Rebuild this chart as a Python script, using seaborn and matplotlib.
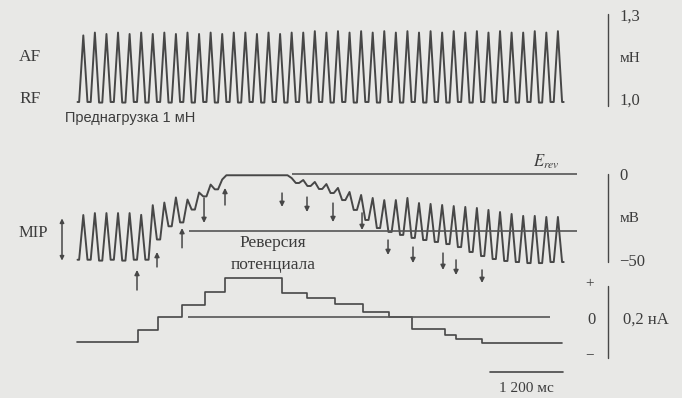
import numpy as np
import pandas as pd
import matplotlib
matplotlib.use("Agg")
import matplotlib.pyplot as plt
import seaborn as sns

# ---------------- data ----------------
beat_period_ms = 191
first_peak_ms = 104

force_start_mN = 1.0
force_peaks_mN = [1.235, 1.245, 1.240, 1.245, 1.240, 1.245, 1.240, 1.245, 1.240, 1.245,
                  1.240, 1.245, 1.240, 1.245, 1.245, 1.240, 1.245, 1.240, 1.245, 1.245,
                  1.250, 1.245, 1.250, 1.245, 1.250, 1.245, 1.250, 1.245, 1.250, 1.245,
                  1.250, 1.245, 1.250, 1.245, 1.250, 1.245, 1.250, 1.245, 1.245, 1.250,
                  1.245, 1.250]
force_troughs_mN = [1.000, 0.998, 1.000, 0.998, 1.000, 0.998, 1.000, 0.998, 1.000, 0.998,
                    1.000, 0.998, 1.000, 0.998, 1.000, 0.998, 1.000, 0.998, 1.000, 0.998,
                    1.000, 0.998, 1.000, 0.998, 1.000, 0.998, 1.000, 0.998, 1.000, 0.998,
                    1.000, 0.998, 1.000, 0.998, 1.000, 0.998, 1.000, 0.998, 1.000, 0.998,
                    1.000, 1.000]

vm_start_mV = -49.0
vm_peaks_mV = [-23.6, -22.5, -22.5, -22.5, -22.5, -23.5, -18.0, -16.5, -13.6, -14.8,
               -10.8, -6.3, -3.4, -1.0, -1.0, -1.0, -1.0, -1.0,
               -2.6, -3.7, -4.8, -6.0, -8.2, -10.5, -12.2, -13.9, -15.1, -15.1,
               -13.9, -16.8, -17.3, -17.9, -18.5, -19.0, -19.6, -20.7, -21.9, -23.0,
               -24.1, -24.1, -24.7, -24.7]
vm_troughs_mV = [-49.0, -49.5, -49.0, -49.5, -49.0, -49.0, -37.5, -30.0, -27.8, -20.5,
                 -13.0, -9.0, -1.0, -1.0, -1.0, -1.0, -1.0, -1.0,
                 -5.4, -7.1, -8.8, -11.1, -15.1, -20.7, -26.4, -31.0, -33.2, -34.9,
                 -36.6, -37.8, -38.9, -40.1, -41.8, -44.6, -46.9, -48.6, -49.7, -50.3,
                 -50.9, -50.9, -50.3, -50.3]

current_step_ms = [0, 1000, 1340, 1730, 2120, 2440, 3380, 3790, 4260, 4720,
                   5140, 5520, 6070, 6250, 6690, 8000]
current_step_nA = [-0.070, -0.036, 0.000, 0.035, 0.073, 0.111, 0.070, 0.054, 0.037, 0.016,
                   0.000, -0.034, -0.051, -0.063, -0.074, -0.074]

erev_line_ms = [3543, 8250]        # E_rev level (0 mV)
rev_line_ms = [1848, 8250]         # reference level
rev_line_mV = -32.7
zero_current_ms = [1836, 7805]

up_arrow_ms = [990, 1320, 1733, 2442]
up_arrow_from_mV = [-66.2, -53.1, -42.2, -17.9]
up_arrow_to_mV = [-54.8, -44.6, -31.0, -8.2]
down_arrow_ms = [2096, 3383, 3795, 4224, 4703, 5132, 5544, 6039, 6254, 6683]
down_arrow_from_mV = [-13.9, -11.1, -13.4, -16.8, -22.4, -37.8, -41.8, -45.2, -49.1, -54.8]
down_arrow_to_mV = [-28.1, -19.0, -21.9, -27.6, -32.1, -46.3, -50.9, -54.8, -57.7, -62.2]

scale_time_ms = 1200

# ---------------- style ----------------
W, H = 682, 398
BG = "#e8e8e6"
INK = "#474747"
TXT = "#3c3c3c"
MS_PER_PX = 16.5
X0_PX = 77

sns.set_theme(style="white")
plt.rcParams["font.family"] = ["Liberation Serif", "DejaVu Serif"]
plt.rcParams["mathtext.fontset"] = "stix"

fig = plt.figure(figsize=(W / 100, H / 100), dpi=100)
fig.patch.set_facecolor(BG)

xlim = ((0 - X0_PX) * MS_PER_PX, (W - X0_PX) * MS_PER_PX)


def band(top_px, bot_px, y1, v1, y2, v2):
    ax = fig.add_axes([0, 1 - bot_px / H, 1, (bot_px - top_px) / H])
    slope = (v2 - v1) / (y2 - y1)
    ax.set_ylim(v1 + (bot_px - y1) * slope, v1 + (top_px - y1) * slope)
    ax.set_xlim(*xlim)
    ax.set_facecolor("none")
    ax.axis("off")
    return ax


def beats(peaks, troughs, start):
    t = [first_peak_ms - 0.5 * beat_period_ms]
    v = [start]
    prev = start
    for k, (p, tr) in enumerate(zip(peaks, troughs)):
        tk = first_peak_ms + k * beat_period_ms
        t += [tk - 0.36 * beat_period_ms, tk, tk + 0.36 * beat_period_ms]
        v += [prev, p, tr]
        prev = tr
    t.append(tk + 0.5 * beat_period_ms)
    v.append(prev)
    return pd.DataFrame({"t": t, "v": v})


def fx(x):
    return x / W


def fy(y):
    return 1 - y / H


ax_f = band(0, 125, 102, 1.0, 17, 1.3)
ax_v = band(140, 300, 173.5, 0.0, 261.5, -50.0)
ax_i = band(262, 398, 317.3, 0.0, 247.3, 0.2)

LW = 1.4

# force trace
df_f = beats(force_peaks_mN, force_troughs_mN, force_start_mN)
sns.lineplot(data=df_f, x="t", y="v", ax=ax_f, sort=False, estimator=None,
             color=INK, lw=LW)
ax_f.plot([8761, 8761], [0.986, 1.311], color=INK, lw=1.0)

# membrane potential trace
df_v = beats(vm_peaks_mV, vm_troughs_mV, vm_start_mV)
sns.lineplot(data=df_v, x="t", y="v", ax=ax_v, sort=False, estimator=None,
             color=INK, lw=LW)
ax_v.hlines(0, *erev_line_ms, color="#555555", lw=1.2)
ax_v.hlines(rev_line_mV, *rev_line_ms, color="#555555", lw=1.2)
ax_v.plot([8761, 8761], [0, -50], color=INK, lw=1.0)
for t, a, b in zip(up_arrow_ms, up_arrow_from_mV, up_arrow_to_mV):
    ax_v.annotate("", xy=(t, b), xytext=(t, a),
                  arrowprops=dict(arrowstyle="-|>", color=INK, lw=1.1,
                                  mutation_scale=7, shrinkA=0, shrinkB=0))
for t, a, b in zip(down_arrow_ms, down_arrow_from_mV, down_arrow_to_mV):
    ax_v.annotate("", xy=(t, b), xytext=(t, a),
                  arrowprops=dict(arrowstyle="-|>", color=INK, lw=1.1,
                                  mutation_scale=7, shrinkA=0, shrinkB=0))
# MIP amplitude marker
mip_t = (62 - X0_PX) * MS_PER_PX
ax_v.annotate("", xy=(mip_t, -25.5), xytext=(mip_t, -49.5),
              arrowprops=dict(arrowstyle="<|-|>", color=INK, lw=1.1,
                              mutation_scale=6, shrinkA=0, shrinkB=0))

# current staircase
df_i = pd.DataFrame({"t": current_step_ms, "v": current_step_nA})
sns.lineplot(data=df_i, x="t", y="v", ax=ax_i, sort=False, estimator=None,
             drawstyle="steps-post", color=INK, lw=1.2)
ax_i.hlines(0, *zero_current_ms, color="#555555", lw=1.2)
ax_i.plot([8761, 8761], [0.09, -0.115], color=INK, lw=1.0)
tb0 = (490 - X0_PX) * MS_PER_PX
ax_i.plot([tb0, tb0 + scale_time_ms], [-0.156, -0.156], color=INK, lw=1.2)

# ---------------- text ----------------
kw = dict(color=TXT, ha="center", va="center")
fig.text(fx(30), fy(57), "AF", fontsize=12.5, **kw)
fig.text(fx(30), fy(99), "RF", fontsize=12.5, **kw)
fig.text(fx(65), fy(118), "Преднагрузка 1 мН", fontsize=10.5, color=TXT,
         ha="left", va="center", family=["Liberation Sans", "DejaVu Sans"])
fig.text(fx(33), fy(233), "MIP", fontsize=12, **kw)
fig.text(fx(273), fy(243), "Реверсия", fontsize=12.5, **kw)
fig.text(fx(273), fy(265), "потенциала", fontsize=12.5, **kw)
fig.text(fx(546), fy(162), r"$E_{rev}$", fontsize=12, **kw)

fig.text(fx(630), fy(17), "1,3", fontsize=12, **kw)
fig.text(fx(630), fy(59), "мН", fontsize=11, **kw)
fig.text(fx(630), fy(101), "1,0", fontsize=12, **kw)
fig.text(fx(624), fy(176), "0", fontsize=12, **kw)
fig.text(fx(630), fy(218), "мВ", fontsize=11, **kw)
fig.text(fx(632), fy(262), "\u221250", fontsize=12, **kw)
fig.text(fx(590), fy(284), "+", fontsize=11, **kw)
fig.text(fx(591), fy(320), "0", fontsize=12, **kw)
fig.text(fx(646), fy(320), "0,2 нА", fontsize=12, **kw)
fig.text(fx(590), fy(355), "\u2212", fontsize=11, **kw)
fig.text(fx(526), fy(388), "1 200 мс", fontsize=11, **kw)

fig.savefig("out.png", dpi=100, facecolor=BG)
